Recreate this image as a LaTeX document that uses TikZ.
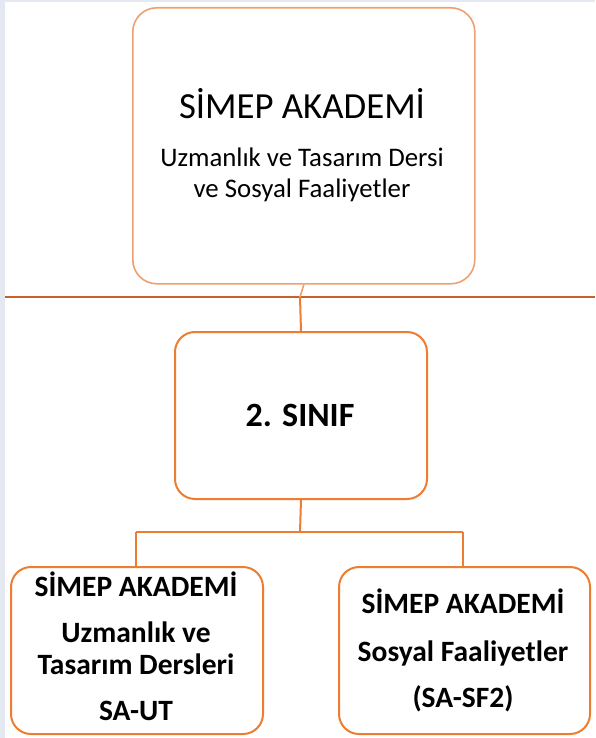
\documentclass[tikz,border=0pt]{standalone}
\usepackage{fontspec}
\setmainfont{Carlito}
\definecolor{bgstrip}{HTML}{E4E9F1}
\definecolor{orangeline}{HTML}{ED7D31}
\definecolor{orangelight}{HTML}{EFA070}
\definecolor{orangedark}{HTML}{C8612A}
\begin{document}
\begin{tikzpicture}[x=1pt,y=-1pt,
  box/.style={draw=orangeline,line width=2pt,rounded corners=20pt,fill=white},
  topbox/.style={draw=orangelight,line width=1.6pt,rounded corners=24pt,fill=white},
  conn/.style={draw=orangeline,line width=2pt},
  txt/.style={anchor=base,inner sep=0pt,text=black},
  bold/.style={txt,font=\fontsize{29.5}{29.5}\selectfont\bfseries}]
\useasboundingbox (0,0) rectangle (595,738);
\fill[bgstrip] (0,0) rectangle (595,738);
\fill[white] (4.5,2.5) rectangle (595,738);
% boxes
\node[topbox,minimum width=342pt,minimum height=276pt,anchor=north west] (top) at (132,7) {};
\node[box,minimum width=252pt,minimum height=167pt,anchor=north west] (mid) at (174,331) {};
\node[box,minimum width=252pt,minimum height=167pt,anchor=north west] (left) at (10,566) {};
\node[box,minimum width=251pt,minimum height=167pt,anchor=north west] (right) at (338,566) {};
% horizontal rule
\coordinate (hl) at (5,297);
\coordinate (hr) at (595,297);
\draw[orangedark,line width=1.6pt] (hl) -- (hr);
% connectors
\coordinate (tj) at (300,297);
\draw[draw=orangelight,line width=1.6pt] (top.south) -- (tj);
\draw[conn] (tj) -- (mid.north);
\coordinate (bj) at (300,532);
\coordinate (bl) at (136,532);
\coordinate (br) at (463,532);
\draw[conn] (mid.south) -- (bj);
\draw[conn] (bl) -- (br);
\draw[conn] (bl) -- (bl |- left.north);
\draw[conn] (br) -- (br |- right.north);
% texts
\node[txt,font=\fontsize{36.8}{36.8}\selectfont] (t1) at (302,119) {SİMEP AKADEMİ};
\node[txt,font=\fontsize{26.8}{26.8}\selectfont] (t2) at (302,167) {Uzmanlık ve Tasarım Dersi};
\node[txt,font=\fontsize{26.8}{26.8}\selectfont] (t3) at (302,197) {ve Sosyal Faaliyetler};
\node[txt,font=\fontsize{34}{34}\selectfont\bfseries] (m1) at (300,426) {2. SINIF};
\node[bold] (l1) at (136,596) {SİMEP AKADEMİ};
\node[bold] (l2) at (136,642) {Uzmanlık ve};
\node[bold] (l3) at (136,674) {Tasarım Dersleri};
\node[bold] (l4) at (136,720) {SA-UT};
\node[bold] (r1) at (463,613) {SİMEP AKADEMİ};
\node[bold] (r2) at (463,661) {Sosyal Faaliyetler};
\node[bold] (r3) at (463,707) {(SA-SF2)};
\end{tikzpicture}
\end{document}
